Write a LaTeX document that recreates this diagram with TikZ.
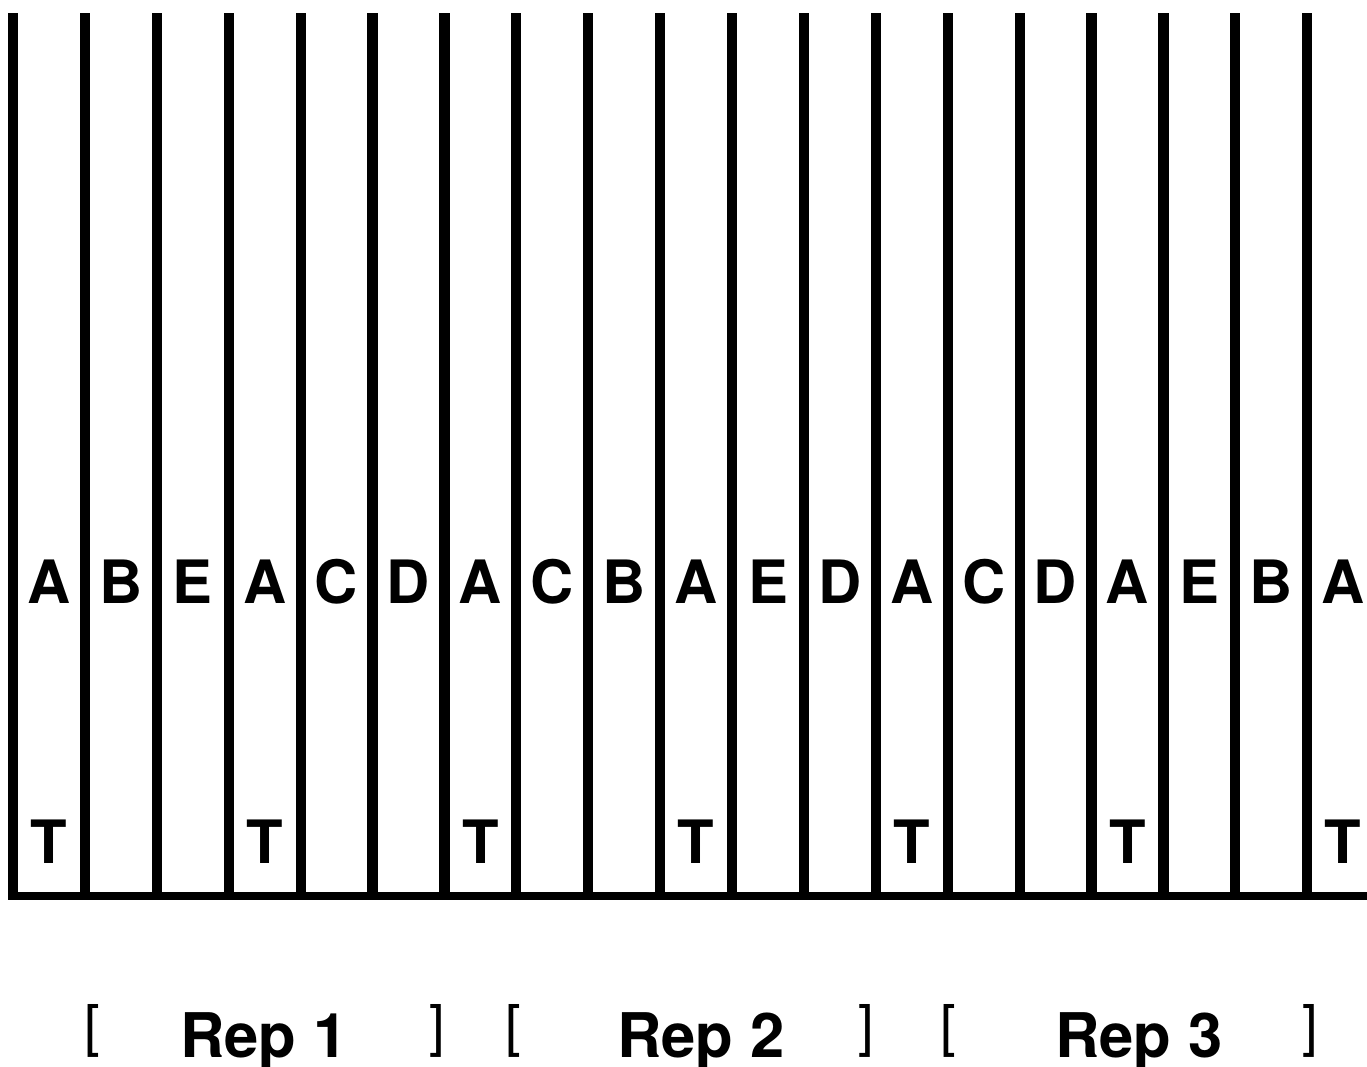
\documentclass[tikz,border=0pt]{standalone}
\usepackage{fontspec}
\setmainfont{TeX Gyre Heros}
\usetikzlibrary{positioning}
\tikzset{
  plotline/.style={line width=2.9pt},
  groundline/.style={line width=2.4pt},
  trt/.style={font=\bfseries\fontsize{17}{17}\selectfont, inner sep=0pt, anchor=base},
  replab/.style={font=\bfseries\fontsize{17.5}{17.5}\selectfont, inner sep=0pt, anchor=base},
  brk/.style={font=\fontsize{16}{16}\selectfont, inner sep=0pt}
}

\begin{document}
\begin{tikzpicture}[x=0.01cm, y=-0.01cm]
  \useasboundingbox (0,0) rectangle (1367,1066);
  % plot borders
  \foreach \i in {0,...,18}
    \draw[plotline] ({13+71.9*\i},13) -- ({13+71.9*\i},896);
  \draw[groundline] (8,896) -- (1367,896);
  % treatments
  \foreach \t [count=\i from 0] in {A,B,E,A,C,D,A,C,B,A,E,D,A,C,D,A,E,B,A}
    \node[trt] (trt\i) at ({13+71.9*(\i+0.5)},603) {\t};
  \foreach \i in {0,3,...,18}
    \node[trt] (tag\i) at ({13+71.9*(\i+0.5)},863) {T};
  % replicates
  \node[brk] (open1) at (92,1031) {[};
  \node[replab] (rep1) at (264,1057) {Rep 1};
  \node[brk] (close1) at (437,1031) {]};
  \node[brk] (open2) at (513,1031) {[};
  \node[replab] (rep2) at (701,1057) {Rep 2};
  \node[brk] (close2) at (866,1031) {]};
  \node[brk] (open3) at (948,1031) {[};
  \node[replab] (rep3) at (1139,1057) {Rep 3};
  \node[brk] (close3) at (1310,1031) {]};
\end{tikzpicture}
\end{document}
